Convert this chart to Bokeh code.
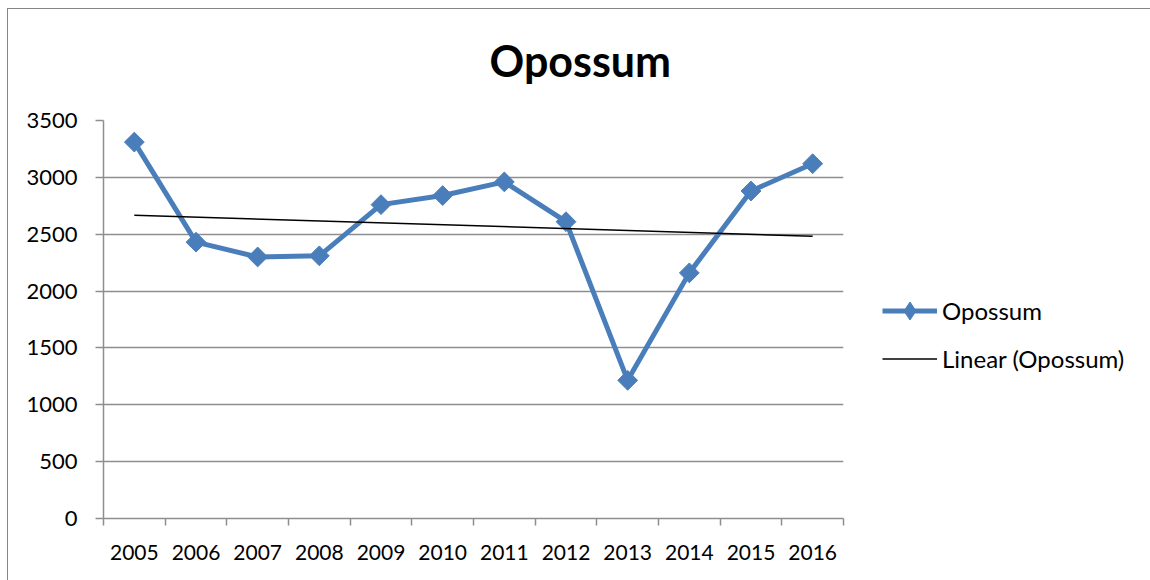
import numpy as np
from bokeh.plotting import figure
from bokeh.models import (FixedTicker, Range1d, Legend, LegendItem, Title, ColumnDataSource)
from bokeh.embed import file_html
from bokeh.resources import INLINE

years = ["2005", "2006", "2007", "2008", "2009", "2010", "2011", "2012", "2013", "2014", "2015", "2016"]
opossum = [3310, 2430, 2300, 2310, 2760, 2840, 2960, 2610, 1215, 2160, 2880, 3120]
y_ticks = [0, 500, 1000, 1500, 2000, 2500, 3000, 3500]

FONT = "Lato"
BLUE = "#4A7EBB"
GREY = "#8E8E8E"

idx = list(range(len(years)))
coef = np.polyfit(idx, opossum, 1)
trend_x = [idx[0], idx[-1]]
trend_y = [float(np.polyval(coef, v)) for v in trend_x]

p = figure(width=1150, height=580, frame_width=740, frame_height=398,
           output_backend="svg", toolbar_location=None,
           x_range=Range1d(-0.5, len(years) - 0.5), y_range=Range1d(0, 3500),
           min_border_left=103, min_border_right=307, min_border_top=120, min_border_bottom=62)
p.styles = {"background": "linear-gradient(#868686,#868686) 7px 8px / 1px 100% no-repeat, "
                          "linear-gradient(#868686,#868686) 7px 8px / 100% 1px no-repeat, white"}
p.outline_line_color = None
p.background_fill_color = "white"
p.border_fill_alpha = 0

title = Title(text="Opossum", text_font=FONT, text_font_size="43px", text_font_style="bold",
              align="left", vertical_align="middle", offset=386, standoff=67, text_color="black")
p.add_layout(title, "above")

src = ColumnDataSource(dict(x=idx, y=opossum))
ln = p.line("x", "y", source=src, line_color=BLUE, line_width=5)
# diamond key used by the legend; on the plot it sits hidden under the larger markers
key = p.scatter("x", "y", source=src, marker="diamond", size=12, fill_color=BLUE, line_color=BLUE)
mk = p.scatter("x", "y", source=src, marker="square", size=14, angle=np.pi / 4,
               fill_color=BLUE, line_color=BLUE)
tr = p.line(trend_x, trend_y, line_color="black", line_width=1.5)

# axes
p.xaxis.ticker = FixedTicker(ticks=idx, minor_ticks=[i - 0.5 for i in range(len(years) + 1)])
p.xaxis.major_label_overrides = {i: years[i] for i in idx}
p.xaxis.major_tick_out = 0
p.xaxis.major_tick_in = 0
p.xaxis.minor_tick_out = 7
p.xaxis.minor_tick_in = 0
p.xaxis.minor_tick_line_color = GREY
p.xaxis.minor_tick_line_width = 1.5
p.xaxis.axis_line_color = GREY
p.xaxis.axis_line_width = 1.5
p.xaxis.major_label_text_font = FONT
p.xaxis.major_label_text_font_size = "21px"
p.xaxis.major_label_text_color = "black"
p.xaxis.major_label_standoff = 19

p.yaxis.ticker = FixedTicker(ticks=y_ticks)
p.yaxis.minor_tick_line_color = None
p.yaxis.major_tick_out = 8
p.yaxis.major_tick_in = 0
p.yaxis.major_tick_line_color = GREY
p.yaxis.major_tick_line_width = 1.5
p.yaxis.axis_line_color = GREY
p.yaxis.axis_line_width = 1.5
p.yaxis.major_label_text_font = FONT
p.yaxis.major_label_text_font_size = "22px"
p.yaxis.major_label_text_color = "black"
p.yaxis.major_label_standoff = 18

p.xgrid.grid_line_color = None
p.ygrid.ticker = FixedTicker(ticks=y_ticks)
p.ygrid.grid_line_color = GREY
p.ygrid.grid_line_width = 1.5

legend = Legend(items=[LegendItem(label="Opossum", renderers=[ln, key]),
                       LegendItem(label="Linear (Opossum)", renderers=[tr])],
                location="left", orientation="vertical",
                title=" ", title_text_font_size="10px", title_standoff=20,
                label_text_font=FONT, label_text_font_size="24px", label_text_color="black",
                glyph_width=55, glyph_height=45, label_height=24, label_standoff=5,
                spacing=3, padding=0, margin=39,
                background_fill_alpha=0, border_line_color=None)
p.add_layout(legend, "right")

open("out.html", "w").write(file_html(p, INLINE))
